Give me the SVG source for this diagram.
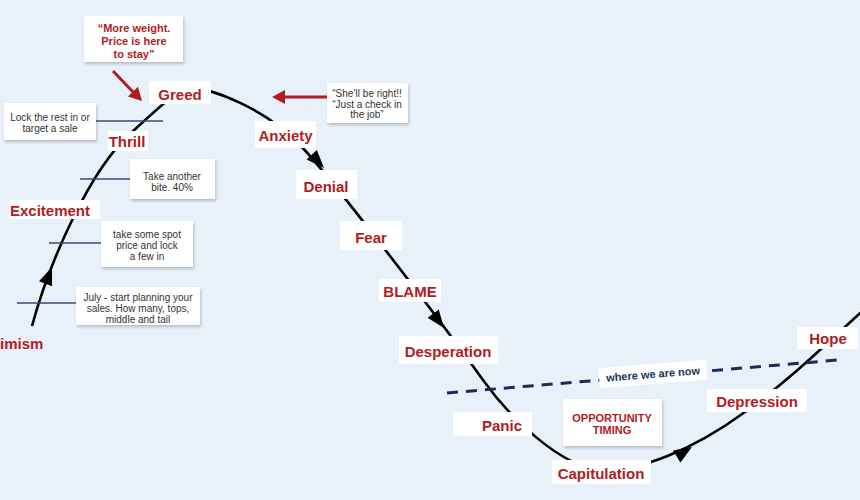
<svg xmlns="http://www.w3.org/2000/svg" xmlns:xlink="http://www.w3.org/1999/xlink" width="860" height="500" viewBox="0 0 860 500">
<defs>
<style>
.lbl{fill:#fff}
.lt{font-family:"Liberation Sans",Arial,sans-serif;font-weight:bold;font-size:15px;fill:#b01c22;text-anchor:middle}
.note{fill:#fff;filter:url(#sh)}
.nt{font-family:"Liberation Sans",Arial,sans-serif;font-size:10px;fill:#333;text-anchor:middle}
.rt{font-family:"Liberation Sans",Arial,sans-serif;font-weight:bold;font-size:11px;fill:#b01c22;text-anchor:middle}
.curve{fill:none;stroke:#000;stroke-width:2.6}
.tick{stroke:#3d4a6e;stroke-width:1.5}
.red{stroke:#b01c22;stroke-width:3;fill:none}
.dash{stroke:#1e2a5a;stroke-width:3;stroke-dasharray:11 8;fill:none}
</style>
<filter id="sh" x="-20%" y="-20%" width="140%" height="150%">
<feDropShadow dx="1" dy="2" stdDeviation="1.8" flood-color="#000" flood-opacity="0.22"/>
</filter>
<path id="ah" d="M0,0 L-18,-7 L-18,7 Z" fill="#000"/>
<path id="rh" d="M0,0 L-13,-7 L-13,7 Z" fill="#b01c22"/>
</defs>
<rect width="860" height="500" fill="#e8f0f9"/>

<g id="connectors">
<path class="curve" d="M32,326 C50,260 90,170 130,134 C154,112 178,88 192,88 C210,88 265,108 300,145 C330,176 440,320 483,380 C505,411 560,470 605,470 C640,470 690,452 745,412 C800,372 840,330 875,300"/>
<use xlink:href="#ah" transform="translate(52,267) rotate(-69)"/>
<use xlink:href="#ah" transform="translate(324,168) rotate(47)"/>
<use xlink:href="#ah" transform="translate(444,328) rotate(53)"/>
<use xlink:href="#ah" transform="translate(692,447) rotate(-32)"/>
<line class="tick" x1="96" y1="121" x2="163" y2="121"/>
<line class="tick" x1="80" y1="179" x2="130" y2="179"/>
<line class="tick" x1="49" y1="243" x2="101" y2="243"/>
<line class="tick" x1="17" y1="303" x2="76" y2="303"/>
<line class="red" x1="113" y1="71" x2="134" y2="93"/>
<use xlink:href="#rh" transform="translate(142,101) rotate(46)"/>
<line class="red" x1="327" y1="97" x2="283" y2="97"/>
<use xlink:href="#rh" transform="translate(272,97) rotate(180)"/>
<line class="dash" x1="447" y1="393" x2="838" y2="360"/>
</g>

<g id="optimism"><text class="lt" x="0" y="349" style="text-anchor:start">imism</text></g>
<g id="excitement"><rect class="lbl" x="9" y="200" width="91" height="19"/><text class="lt" x="50" y="216">Excitement</text></g>
<g id="thrill"><rect class="lbl" x="108" y="131" width="40" height="20"/><text class="lt" x="127" y="147">Thrill</text></g>
<g id="greed"><rect class="lbl" x="149" y="81" width="62" height="23"/><text class="lt" x="180" y="100">Greed</text></g>
<g id="anxiety"><rect class="lbl" x="255" y="121" width="61" height="27"/><text class="lt" x="285.5" y="141">Anxiety</text></g>
<g id="denial"><rect class="lbl" x="296" y="170" width="61" height="29"/><text class="lt" x="326" y="192">Denial</text></g>
<g id="fear"><rect class="lbl" x="340" y="221" width="62" height="29"/><text class="lt" x="371" y="243">Fear</text></g>
<g id="blame"><rect class="lbl" x="379" y="279" width="62" height="23"/><text class="lt" x="410" y="297">BLAME</text></g>
<g id="desperation"><rect class="lbl" x="399" y="336" width="99" height="28"/><text class="lt" x="448" y="357">Desperation</text></g>
<g id="panic"><rect class="lbl" x="453" y="412" width="79" height="24"/><text class="lt" x="502" y="431">Panic</text></g>
<g id="capitulation"><rect class="lbl" x="552" y="460" width="99" height="24"/><text class="lt" x="601" y="479">Capitulation</text></g>
<g id="depression"><rect class="lbl" x="707" y="389" width="100" height="23"/><text class="lt" x="757" y="407">Depression</text></g>
<g id="hope"><rect class="lbl" x="797" y="327" width="61" height="22"/><text class="lt" x="828" y="344">Hope</text></g>

<g id="note-more-weight"><rect class="note" x="84" y="16" width="99" height="46"/>
<text class="rt" x="134" y="32">“More weight.</text><text class="rt" x="134" y="45">Price is here</text><text class="rt" x="134" y="57.5">to stay”</text></g>
<g id="note-lock"><rect class="note" x="4" y="103" width="92" height="37"/>
<text class="nt" x="50" y="121">Lock the rest in or</text><text class="nt" x="50" y="132">target a sale</text></g>
<g id="note-bite"><rect class="note" x="130" y="159" width="85" height="40"/>
<text class="nt" x="172" y="180">Take another</text><text class="nt" x="172" y="190.5">bite. 40%</text></g>
<g id="note-spot"><rect class="note" x="101" y="221" width="92" height="46"/>
<text class="nt" x="147" y="237.5">take some spot</text><text class="nt" x="147" y="248.5">price and lock</text><text class="nt" x="147" y="259.5">a few in</text></g>
<g id="note-july"><rect class="note" x="76" y="287" width="124" height="38"/>
<text class="nt" x="138" y="300.5">July - start planning your</text><text class="nt" x="138" y="311.5">sales. How many, tops,</text><text class="nt" x="138" y="322.5">middle and tail</text></g>
<g id="note-shell"><rect class="note" x="327" y="83" width="81" height="40"/>
<text class="nt" x="367" y="96.5">“She’ll be right!!</text><text class="nt" x="367" y="107.5">“Just a check in</text><text class="nt" x="367" y="118">the job”</text></g>
<g id="note-opportunity"><rect class="note" x="563" y="399" width="99" height="47"/>
<text class="rt" x="612" y="422">OPPORTUNITY</text><text class="rt" x="612" y="434">TIMING</text></g>
<g id="where-we-are-now" transform="translate(653,374) rotate(-4.6)"><rect class="lbl" x="-54" y="-10" width="108" height="20"/>
<text x="0" y="4" style="font-family:'Liberation Sans',Arial,sans-serif;font-weight:bold;font-size:11px;fill:#26325e;text-anchor:middle">where we are now</text></g>
</svg>
